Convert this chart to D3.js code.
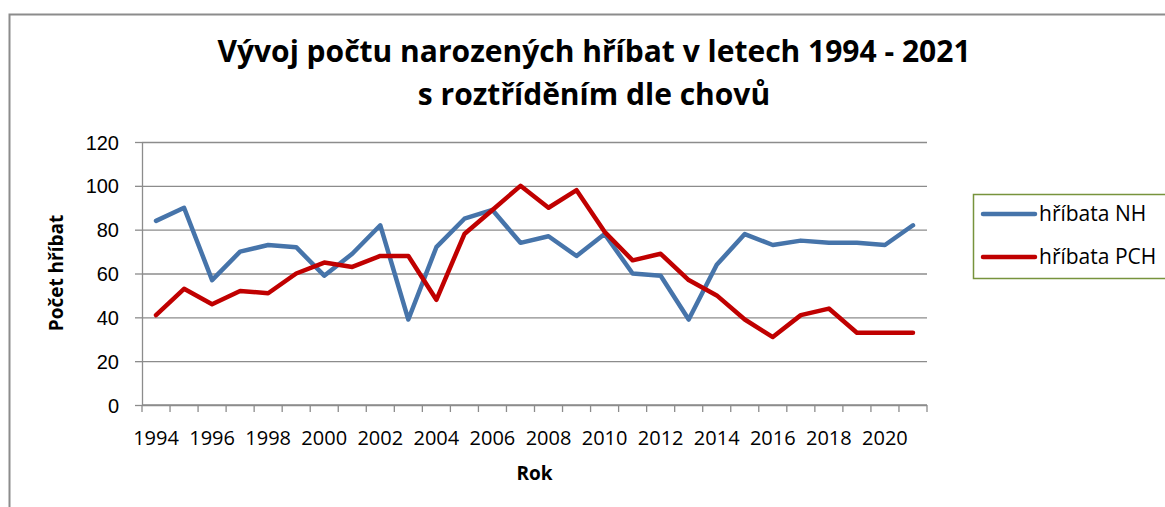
<!DOCTYPE html>
<html>
<head>
<meta charset="utf-8">
<script src="https://cdn.jsdelivr.net/npm/d3@7"></script>
<style>
  body { margin: 0; background: #fff; }
  svg { display: block; font-family: "Open Sans", "Noto Sans", sans-serif; }
  .grid line { stroke: #8c8c8c; stroke-width: 1.3; }
  .grid path { display: none; }
  .axis path, .axis line { stroke: #8c8c8c; stroke-width: 1.3; }
  .axis text { font-size: 20px; fill: #000; }
</style>
</head>
<body>
<div class="plotWrapper"></div>
<script>
let years = d3.range(1994, 2022);
let hribataNH = [84, 90, 57, 70, 73, 72, 59, 69, 82, 39, 72, 85, 89, 74, 77, 68, 78, 60, 59, 39, 64, 78, 73, 75, 74, 74, 73, 82];
let hribataPCH = [41, 53, 46, 52, 51, 60, 65, 63, 68, 68, 48, 78, 89, 100, 90, 98, 79, 66, 69, 57, 50, 39, 31, 41, 44, 33, 33, 33];
let yTicks = [0, 20, 40, 60, 80, 100, 120];
let seriesNames = ["hříbata NH", "hříbata PCH"];
let seriesColors = ["#4674aa", "#c00000"];

let width = 1165;
let height = 507;
let margin = {top: 142, right: 238, bottom: 102, left: 142};

let svg = d3.select(".plotWrapper").append("svg")
    .attr("width", width)
    .attr("height", height);

// outer chart border (only left and top visible in the picture)
svg.append("path")
    .attr("d", "M9.5," + height + "V14.5H" + width)
    .attr("fill", "none")
    .attr("stroke", "#8c8c8c")
    .attr("stroke-width", 2);

let plot = svg.append("g")
    .attr("transform", "translate(" + margin.left + "," + margin.top + ")");

let plotWidth = width - margin.left - margin.right;
let plotHeight = height - margin.top - margin.bottom;

let xScale = d3.scaleBand().domain(years).range([0, plotWidth]);
let yScale = d3.scaleLinear().domain([0, 120]).range([plotHeight, 0]);

plot.append("g")
    .attr("class", "grid")
    .call(d3.axisLeft(yScale).tickValues(yTicks).tickSize(-plotWidth).tickFormat(""));

// y axis
plot.append("g")
    .attr("class", "axis")
    .call(d3.axisLeft(yScale).tickValues(yTicks).tickSize(7).tickPadding(16).tickSizeOuter(0))
    .selectAll("text").attr("dy", "0.35em");

// x axis: ticks between categories, labels on every second year
let xAxisG = plot.append("g")
    .attr("class", "axis")
    .attr("transform", "translate(0," + plotHeight + ")");

xAxisG.append("line")
    .attr("x1", 0).attr("x2", plotWidth)
    .attr("y1", 0).attr("y2", 0);

xAxisG.selectAll(".xtick")
    .data(years.concat([2022]))
    .join("line")
    .attr("class", "xtick")
    .attr("x1", d => d === 2022 ? plotWidth : xScale(d))
    .attr("x2", d => d === 2022 ? plotWidth : xScale(d))
    .attr("y1", 0).attr("y2", 7);

xAxisG.selectAll(".xlabel")
    .data(years.filter(y => y % 2 === 0))
    .join("text")
    .attr("class", "xlabel")
    .attr("x", d => xScale(d) + xScale.bandwidth() / 2)
    .attr("y", 40)
    .attr("text-anchor", "middle")
    .text(d => d);

// lines
let line = d3.line()
    .x((d, i) => xScale(years[i]) + xScale.bandwidth() / 2)
    .y(d => yScale(d));

[hribataNH, hribataPCH].forEach((values, i) => {
    plot.append("path")
        .datum(values)
        .attr("fill", "none")
        .attr("stroke", seriesColors[i])
        .attr("stroke-width", 4.5)
        .attr("stroke-linejoin", "round")
        .attr("stroke-linecap", "round")
        .attr("d", line);
});

// titles
svg.append("text")
    .attr("x", 594).attr("y", 62)
    .attr("text-anchor", "middle")
    .attr("font-size", 30).attr("font-weight", "bold")
    .text("Vývoj počtu narozených hříbat v letech 1994 - 2021");
svg.append("text")
    .attr("x", 594).attr("y", 105)
    .attr("text-anchor", "middle")
    .attr("font-size", 30).attr("font-weight", "bold")
    .text("s roztříděním dle chovů");

svg.append("text")
    .attr("x", margin.left + plotWidth / 2).attr("y", 480)
    .attr("text-anchor", "middle")
    .attr("font-size", 19).attr("font-weight", "bold")
    .text("Rok");

svg.append("text")
    .attr("transform", "translate(63,273) rotate(-90)")
    .attr("text-anchor", "middle")
    .attr("font-size", 19).attr("font-weight", "bold")
    .text("Počet hříbat");

// legend
let legend = svg.append("g").attr("transform", "translate(973,194)");
legend.append("rect")
    .attr("x", 0.5).attr("y", 0.5)
    .attr("width", 200).attr("height", 84)
    .attr("fill", "#fff")
    .attr("stroke", "#77933c")
    .attr("stroke-width", 1.5);

seriesNames.forEach((name, i) => {
    let y = 20 + i * 43;
    legend.append("line")
        .attr("x1", 10).attr("x2", 62)
        .attr("y1", y).attr("y2", y)
        .attr("stroke", seriesColors[i])
        .attr("stroke-width", 4.5)
        .attr("stroke-linecap", "round");
    legend.append("text")
        .attr("x", 66).attr("y", y)
        .attr("dy", "0.35em")
        .attr("font-size", 21)
        .text(name);
});
</script>
</body>
</html>
